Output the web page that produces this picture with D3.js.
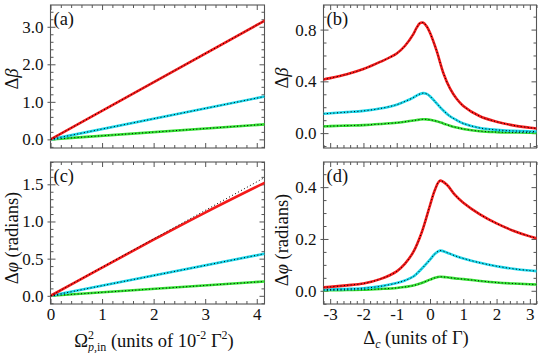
<!DOCTYPE html>
<html><head><meta charset="utf-8">
<script src="https://cdn.jsdelivr.net/npm/d3@7"></script>
<style>
svg text, svg tspan, svg g { font-family: "Liberation Serif", serif !important; }
</style>
</head>
<body style="margin:0;background:#fff">
<svg id="c" width="540" height="353" style="display:block"></svg>
<script>
// ---------- data ----------
// panel (a)/(c): x = Omega^2_p,in (units of 1e-2 Gamma^2)
const omegaX = [0, 4.15];
const aRed = [0, 3.16];
const aCyan = [0, 1.14];
const aGreen = [0, 0.40];
const cRedX = [0, 1, 2, 3, 4.15];
const cRed = [0, 0.38, 0.755, 1.12, 1.52];
const cRedRef = [0, 1.59];
const cCyan = [0, 0.566];
const cGreen = [0, 0.193];

// panel (b)/(d): x = Delta_c (units of Gamma)
const bX = [-3.2, -3.0, -2.5, -2.0, -1.5, -1.0, -0.75, -0.5, -0.4, -0.3, -0.2, -0.1, 0.0, 0.2, 0.4, 0.6, 0.8, 1.0, 1.5, 2.0, 2.5, 3.0, 3.2];
const bRed = [0.415, 0.425, 0.455, 0.495, 0.55, 0.615, 0.675, 0.765, 0.815, 0.85, 0.853, 0.825, 0.775, 0.635, 0.465, 0.345, 0.265, 0.21, 0.13, 0.088, 0.06, 0.042, 0.036];
const bCyan = [0.150, 0.153, 0.162, 0.172, 0.19, 0.22, 0.245, 0.275, 0.29, 0.303, 0.309, 0.303, 0.285, 0.23, 0.175, 0.13, 0.10, 0.075, 0.04, 0.025, 0.017, 0.013, 0.012];
const bGreen = [0.052, 0.054, 0.058, 0.062, 0.07, 0.08, 0.088, 0.097, 0.101, 0.105, 0.107, 0.106, 0.103, 0.092, 0.075, 0.057, 0.043, 0.032, 0.015, 0.008, 0.005, 0.003, 0.002];

const dX = [-3.2, -3.0, -2.5, -2.0, -1.5, -1.0, -0.75, -0.5, -0.25, 0.0, 0.15, 0.3, 0.5, 0.75, 1.0, 1.5, 2.0, 2.5, 3.0, 3.2];
const dRed = [0.013, 0.015, 0.021, 0.028, 0.045, 0.075, 0.105, 0.15, 0.225, 0.33, 0.39, 0.425, 0.41, 0.37, 0.34, 0.295, 0.26, 0.232, 0.21, 0.203];
const dCyan = [0.004, 0.005, 0.007, 0.010, 0.017, 0.030, 0.040, 0.055, 0.085, 0.12, 0.143, 0.155, 0.148, 0.135, 0.125, 0.108, 0.095, 0.085, 0.078, 0.076];
const dGreen = [0.002, 0.002, 0.003, 0.004, 0.007, 0.011, 0.015, 0.020, 0.030, 0.043, 0.050, 0.054, 0.052, 0.048, 0.045, 0.038, 0.032, 0.028, 0.025, 0.024];

const colors = {red: "#f41a1a", cyan: "#1ad6ea", green: "#34e234"};

// ---------- drawing ----------
const svg = d3.select("#c");
const FONT = 17;
const TFONT = 18.5;
const FF = "Liberation Serif";

function setFont(sel, size) {
  return sel.attr("font-family", FF)
    .style("font-family", "'Liberation Serif', serif", "important")
    .attr("font-size", size || FONT);
}

function rng(d0, d1, step) {
  const out = [];
  for (let i = Math.ceil(d0 / step - 1e-9); i * step <= d1 + 1e-9; i++) out.push(+(i * step).toFixed(6));
  return out;
}

function panel(cfg) {
  const x = d3.scaleLinear().domain(cfg.xd).range([cfg.L, cfg.R]);
  const y = d3.scaleLinear().domain(cfg.yd).range([cfg.B, cfg.T]);
  const g = svg.append("g");
  const id = "clip" + cfg.name;
  svg.append("clipPath").attr("id", id).append("rect")
    .attr("x", cfg.L).attr("y", cfg.T).attr("width", cfg.R - cfg.L).attr("height", cfg.B - cfg.T);

  const xMaj = rng(cfg.xd[0], cfg.xd[1], cfg.xMajor);
  const xMin = rng(cfg.xd[0], cfg.xd[1], cfg.xMinor).filter(v => !xMaj.some(m => Math.abs(m - v) < 1e-6));
  const yMaj = rng(cfg.yd[0], cfg.yd[1], cfg.yMajor);
  const yMin = rng(cfg.yd[0], cfg.yd[1], cfg.yMinor).filter(v => !yMaj.some(m => Math.abs(m - v) < 1e-6));

  function style(sel) {
    setFont(sel);
    sel.select(".domain").remove();
    sel.selectAll("line").attr("stroke", "#555").attr("stroke-width", 1);
    setFont(sel.selectAll("text")).attr("fill", "#111");
  }
  const fmtX = cfg.xLabels ? (v => String(v)) : () => "";
  // bottom
  g.append("g").attr("transform", `translate(0,${cfg.B})`)
    .call(d3.axisBottom(x).tickValues(xMaj).tickSize(-5).tickPadding(4).tickFormat(fmtX)).call(style);
  g.append("g").attr("transform", `translate(0,${cfg.B})`)
    .call(d3.axisBottom(x).tickValues(xMin).tickSize(-3).tickFormat("")).call(style);
  // top
  g.append("g").attr("transform", `translate(0,${cfg.T})`)
    .call(d3.axisTop(x).tickValues(xMaj).tickSize(-5).tickFormat("")).call(style);
  g.append("g").attr("transform", `translate(0,${cfg.T})`)
    .call(d3.axisTop(x).tickValues(xMin).tickSize(-3).tickFormat("")).call(style);
  // left
  const yFmt = v => cfg.yLabelVals.some(m => Math.abs(m - v) < 1e-6) ? d3.format(".1f")(v) : "";
  const la = g.append("g").attr("transform", `translate(${cfg.L},0)`)
    .call(d3.axisLeft(y).tickValues(yMaj).tickSize(-5).tickPadding(7).tickFormat(yFmt)).call(style);
  la.selectAll(".tick").each(function(d){
    if (cfg.yLabelVals.some(m => Math.abs(m - d) < 1e-6)) d3.select(this).select("line").attr("x1", -3);
  });
  g.append("g").attr("transform", `translate(${cfg.L},0)`)
    .call(d3.axisLeft(y).tickValues(yMin).tickSize(-3).tickFormat("")).call(style);
  // right
  g.append("g").attr("transform", `translate(${cfg.R},0)`)
    .call(d3.axisRight(y).tickValues(yMaj).tickSize(-5).tickFormat("")).call(style);
  g.append("g").attr("transform", `translate(${cfg.R},0)`)
    .call(d3.axisRight(y).tickValues(yMin).tickSize(-3).tickFormat("")).call(style);

  // frame
  g.append("rect").attr("x", cfg.L).attr("y", cfg.T).attr("width", cfg.R - cfg.L).attr("height", cfg.B - cfg.T)
    .attr("fill", "none").attr("stroke", "#555").attr("stroke-width", 1.1);

  const plot = g.append("g").attr("clip-path", `url(#${id})`);
  const line = d3.line().x(d => x(d[0])).y(d => y(d[1])).curve(d3.curveCatmullRom.alpha(0.5));
  cfg.series.forEach(s => {
    const pts = s.xs.map((xv, i) => [xv, s.ys[i]]);
    plot.append("path").attr("d", line(pts)).attr("fill", "none")
      .attr("stroke", colors[s.color]).attr("stroke-width", 2.6).attr("stroke-linecap", "round");
  });
  cfg.series.forEach(s => {
    const ref = s.ref || s.ys, rx = s.refX || s.xs;
    const pts = rx.map((xv, i) => [xv, ref[i]]);
    plot.append("path").attr("d", line(pts)).attr("fill", "none")
      .attr("stroke", "#000").attr("stroke-width", 1).attr("stroke-dasharray", "1,2.4");
  });

  // panel label
  setFont(g.append("text").attr("x", cfg.L + 3).attr("y", cfg.T + 20), TFONT).attr("fill", "#111").text(cfg.label);
  return {x, y};
}

const LL = 50.5, LR = 264.5, RL = 323.5, RR = 536.5;
const T1 = 5, B1 = 148, T2 = 162, B2 = 304;

panel({name: "a", L: LL, R: LR, T: T1, B: B1, xd: [0, 4.15], yd: [-0.23, 3.58],
  xMajor: 1, xMinor: 0.2, yMajor: 1, yMinor: 0.2, yLabelVals: [0, 1, 2, 3], xLabels: false, label: "(a)",
  series: [
    {xs: omegaX, ys: aGreen, color: "green"},
    {xs: omegaX, ys: aCyan, color: "cyan"},
    {xs: omegaX, ys: aRed, color: "red"}]});

panel({name: "c", L: LL, R: LR, T: T2, B: B2, xd: [0, 4.15], yd: [-0.11, 1.80],
  xMajor: 1, xMinor: 0.2, yMajor: 0.5, yMinor: 0.1, yLabelVals: [0, 0.5, 1, 1.5], xLabels: true, label: "(c)",
  series: [
    {xs: omegaX, ys: cGreen, color: "green"},
    {xs: omegaX, ys: cCyan, color: "cyan"},
    {xs: cRedX, ys: cRed, color: "red", ref: cRedRef, refX: omegaX}]});

panel({name: "b", L: RL, R: RR, T: T1, B: B1, xd: [-3.2, 3.2], yd: [-0.115, 0.99],
  xMajor: 1, xMinor: 0.2, yMajor: 0.4, yMinor: 0.1, yLabelVals: [0, 0.4, 0.8], xLabels: false, label: "(b)",
  series: [
    {xs: bX, ys: bGreen, color: "green"},
    {xs: bX, ys: bCyan, color: "cyan"},
    {xs: bX, ys: bRed, color: "red"}]});

panel({name: "d", L: RL, R: RR, T: T2, B: B2, xd: [-3.2, 3.2], yd: [-0.051, 0.497],
  xMajor: 1, xMinor: 0.2, yMajor: 0.2, yMinor: 0.05, yLabelVals: [0, 0.2, 0.4], xLabels: true, label: "(d)",
  series: [
    {xs: dX, ys: dGreen, color: "green"},
    {xs: dX, ys: dCyan, color: "cyan"},
    {xs: dX, ys: dRed, color: "red"}]});

// ---------- axis titles ----------
function yTitle(cx, cy, greek, extra) {
  const t = setFont(svg.append("text"), TFONT).attr("transform", `translate(${cx},${cy}) rotate(-90)`)
    .attr("text-anchor", "middle").attr("dy", "0.35em").attr("fill", "#111");
  t.append("tspan").text("Δ");
  t.append("tspan").attr("font-style", "italic").text(greek);
  if (extra) t.append("tspan").text(extra);
}
yTitle(12, 79, "β");
yTitle(12, 238, "φ", " (radians)");
yTitle(282, 78, "β");
yTitle(282, 240, "φ", " (radians)");

// x title (c)
{
  const t = setFont(svg.append("text"), TFONT).attr("x", 154).attr("y", 347).attr("text-anchor", "middle").attr("fill", "#111");
  t.append("tspan").text("Ω");
  t.append("tspan").attr("font-size", 12).attr("dy", -8).text("2");
  t.append("tspan").attr("font-size", 12).attr("font-style", "italic").attr("dx", -6).attr("dy", 12).text("p");
  t.append("tspan").attr("font-size", 12).text(",in");
  t.append("tspan").attr("dy", -4).text(" (units of 10");
  t.append("tspan").attr("font-size", 12).attr("dy", -8).text("-2");
  t.append("tspan").attr("dy", 8).text(" Γ");
  t.append("tspan").attr("font-size", 12).attr("dy", -8).text("2");
  t.append("tspan").attr("dy", 8).text(")");
}
// x title (d)
{
  const t = setFont(svg.append("text"), TFONT).attr("x", 416).attr("y", 344).attr("text-anchor", "middle").attr("fill", "#111");
  t.append("tspan").text("Δ");
  t.append("tspan").attr("font-size", 12).attr("font-style", "italic").attr("dy", 4).text("c");
  t.append("tspan").attr("dy", -4).text(" (units of Γ)");
}
</script></body></html>
